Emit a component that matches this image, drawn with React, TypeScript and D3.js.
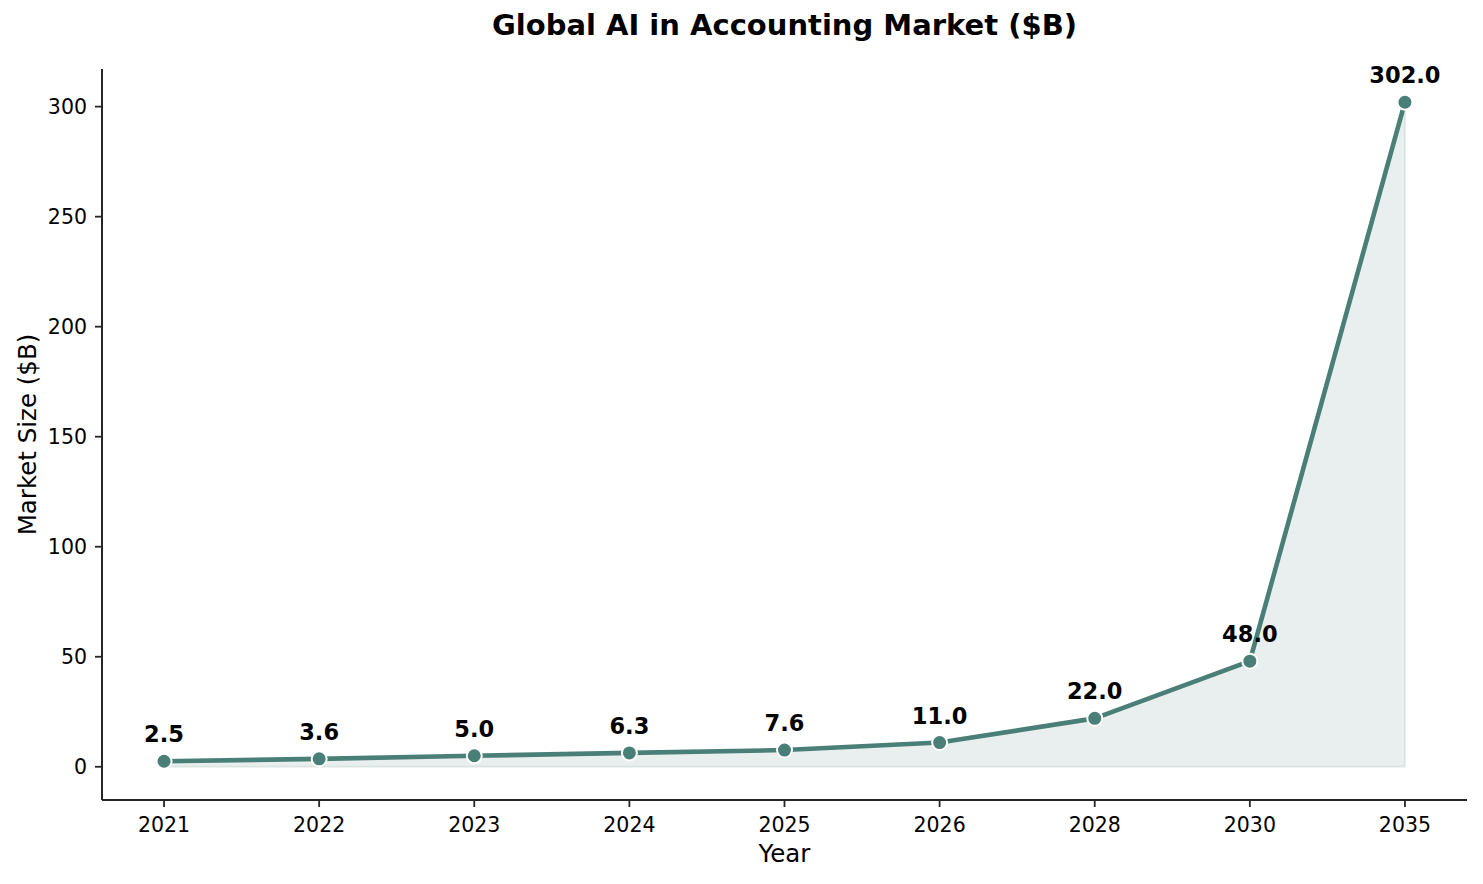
import React from "react";
import * as d3 from "d3";

const years: string[] = ["2021", "2022", "2023", "2024", "2025", "2026", "2028", "2030", "2035"];
const marketSize: number[] = [2.5, 3.6, 5.0, 6.3, 7.6, 11.0, 22.0, 48.0, 302.0];
const yTicks: number[] = [0, 50, 100, 150, 200, 250, 300];

const W = 1483;
const H = 884;
const plot = { left: 102, right: 1467, top: 69, bottom: 800 };
const color = "#4a7f77";
const font = "'DejaVu Sans', sans-serif";

export default function App() {
  const x = d3.scaleLinear().domain([-0.4, years.length - 1 + 0.4]).range([plot.left, plot.right]);
  const yMax = d3.max(marketSize) as number;
  const pad = yMax * 0.05;
  const y = d3.scaleLinear().domain([-pad, yMax + pad]).range([plot.bottom, plot.top]);

  const pts = marketSize.map((v, i) => ({ v, i }));
  const line = d3.line<{ v: number; i: number }>().x((d) => x(d.i)).y((d) => y(d.v));
  const area = d3
    .area<{ v: number; i: number }>()
    .x((d) => x(d.i))
    .y0(() => y(0))
    .y1((d) => y(d.v));

  return (
    <svg
      width={W}
      height={H}
      style={{ position: "absolute", left: 0, top: 0, background: "#fff" }}
      fontFamily={font}
    >
      <text x={(plot.left + plot.right) / 2} y={35} textAnchor="middle" fontSize={29} fontWeight="bold" fill="#000">
        Global AI in Accounting Market ($B)
      </text>

      <path d={area(pts) || ""} fill={color} fillOpacity={0.12} stroke={color} strokeOpacity={0.12} strokeWidth={2} />
      <path d={line(pts) || ""} fill="none" stroke={color} strokeWidth={4.6} strokeLinejoin="round" strokeLinecap="round" />
      {pts.map((d) => (
        <circle key={d.i} cx={x(d.i)} cy={y(d.v)} r={7.5} fill={color} stroke="#fff" strokeWidth={2} />
      ))}
      {pts.map((d) => (
        <text key={"l" + d.i} x={x(d.i)} y={y(d.v) - 19} textAnchor="middle" fontSize={22.5} fontWeight="bold" fill="#000">
          {d.v.toFixed(1)}
        </text>
      ))}

      {/* axes */}
      <line x1={plot.left} x2={plot.left} y1={plot.top} y2={plot.bottom} stroke="#262626" strokeWidth={2} />
      <line x1={plot.left} x2={plot.right} y1={plot.bottom} y2={plot.bottom} stroke="#262626" strokeWidth={2} />
      {yTicks.map((t) => (
        <g key={"y" + t}>
          <line x1={plot.left - 7} x2={plot.left} y1={y(t)} y2={y(t)} stroke="#262626" strokeWidth={1.8} />
          <text x={plot.left - 15} y={y(t)} dy="0.36em" textAnchor="end" fontSize={20.5} fill="#000">
            {t}
          </text>
        </g>
      ))}
      {years.map((yr, i) => (
        <g key={"x" + yr}>
          <line x1={x(i)} x2={x(i)} y1={plot.bottom} y2={plot.bottom + 7} stroke="#262626" strokeWidth={1.8} />
          <text x={x(i)} y={plot.bottom + 32} textAnchor="middle" fontSize={20.5} fill="#000">
            {yr}
          </text>
        </g>
      ))}
      <text x={(plot.left + plot.right) / 2} y={862} textAnchor="middle" fontSize={24.5} fill="#000">
        Year
      </text>
      <text
        transform={`translate(36, ${(plot.top + plot.bottom) / 2}) rotate(-90)`}
        textAnchor="middle"
        fontSize={24.5}
        fill="#000"
      >
        Market Size ($B)
      </text>
    </svg>
  );
}
